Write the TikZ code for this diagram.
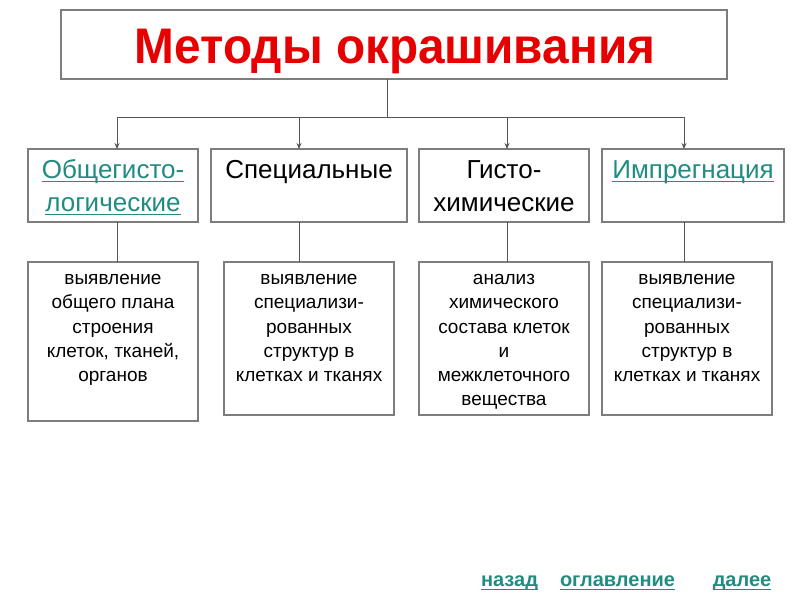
\documentclass[tikz,border=0pt]{standalone}
\usepackage{fontspec}
\setmainfont{Liberation Sans}
\newfontfamily\titlefont[FakeStretch=0.955]{Liberation Sans}
\usetikzlibrary{arrows.meta}
\definecolor{titlered}{RGB}{230,0,0}
\definecolor{linkteal}{RGB}{32,140,130}
\definecolor{boxgray}{RGB}{125,125,125}
\definecolor{linegray}{RGB}{85,85,85}
\newcommand\ulink[2]{\setbox0\hbox{#2}\rlap{\rule[-#1]{\wd0}{1.3pt}}\box0}
\begin{document}
\begin{tikzpicture}[x=1pt,y=-1pt,
  box/.style={draw=boxgray,line width=1.3pt,rectangle,inner sep=0pt,outer sep=0pt},
  headtxt/.style={anchor=north,inner sep=0pt,align=center,font=\fontsize{26}{33}\selectfont},
  desctxt/.style={anchor=north,inner sep=0pt,align=center,font=\fontsize{19}{24.2}\selectfont},
  linktxt/.style={anchor=base,inner sep=0pt,text=linkteal,font=\fontsize{20}{24}\bfseries\selectfont},
  conn/.style={draw=linegray,line width=0.9pt},
  arr/.style={conn,-{Stealth[length=6pt,width=5pt]}}]
\fill[white] (0,0) rectangle (800,600);
\useasboundingbox (0,0) rectangle (800,600);
% title
\node[box,minimum width=666pt,minimum height=69pt] (title) at (394,44.5) {};
\node[anchor=base,inner sep=0pt,text=titlered,font=\titlefont\fontsize{50}{56}\bfseries\selectfont] (titletext) at (395,63.3) {Методы окрашивания};
% first row boxes
\node[box,minimum width=170pt,minimum height=73pt] (b1) at (113,185.5) {};
\node[box,minimum width=196pt,minimum height=73pt] (b2) at (309,185.5) {};
\node[box,minimum width=170pt,minimum height=73pt] (b3) at (504,185.5) {};
\node[box,minimum width=182pt,minimum height=73pt] (b4) at (693,185.5) {};
\node[headtxt,text=linkteal] (h1) at (113,155) {\strut\ulink{4pt}{Общегисто-}\\\ulink{4pt}{логические}};
\node[headtxt] (h2) at (309,155) {\strut Специальные};
\node[headtxt] (h3) at (504,155) {\strut Гисто-\\химические};
\node[headtxt,text=linkteal] (h4) at (693,155) {\strut\ulink{4pt}{Импрегнация}};
% second row boxes
\node[box,minimum width=170pt,minimum height=159pt] (d1) at (113,341.5) {};
\node[box,minimum width=170pt,minimum height=153pt] (d2) at (309,338.5) {};
\node[box,minimum width=170pt,minimum height=153pt] (d3) at (504,338.5) {};
\node[box,minimum width=170pt,minimum height=153pt] (d4) at (687,338.5) {};
\node[desctxt] (t1) at (113,267.6) {\strut выявление\\общего плана\\строения\\клеток, тканей,\\органов};
\node[desctxt] (t2) at (309,267.6) {\strut выявление\\специализи-\\рованных\\структур в\\клетках и тканях};
\node[desctxt] (t3) at (504,267.6) {\strut анализ\\химического\\состава клеток\\и\\межклеточного\\вещества};
\node[desctxt] (t4) at (687,267.6) {\strut выявление\\специализи-\\рованных\\структур в\\клетках и тканях};
% connectors
\coordinate (jt) at (387,117);
\coordinate (j1) at (117,117);
\coordinate (j2) at (299,117);
\coordinate (j3) at (507,117);
\coordinate (j4) at (684,117);
\draw[conn] (jt |- title.south) -- (jt);
\draw[conn] (j1) -- (j4);
\draw[arr] (j1) -- (j1 |- b1.north);
\draw[arr] (j2) -- (j2 |- b2.north);
\draw[arr] (j3) -- (j3 |- b3.north);
\draw[arr] (j4) -- (j4 |- b4.north);
\draw[conn] (j1 |- b1.south) -- (j1 |- d1.north);
\draw[conn] (j2 |- b2.south) -- (j2 |- d2.north);
\draw[conn] (j3 |- b3.south) -- (j3 |- d3.north);
\draw[conn] (j4 |- b4.south) -- (j4 |- d4.north);
% navigation links
\node[linktxt] (back) at (509.5,586) {\ulink{4pt}{назад}};
\node[linktxt] (toc) at (617.5,586) {\ulink{4pt}{оглавление}};
\node[linktxt] (next) at (742,586) {\ulink{4pt}{далее}};
\end{tikzpicture}
\end{document}
